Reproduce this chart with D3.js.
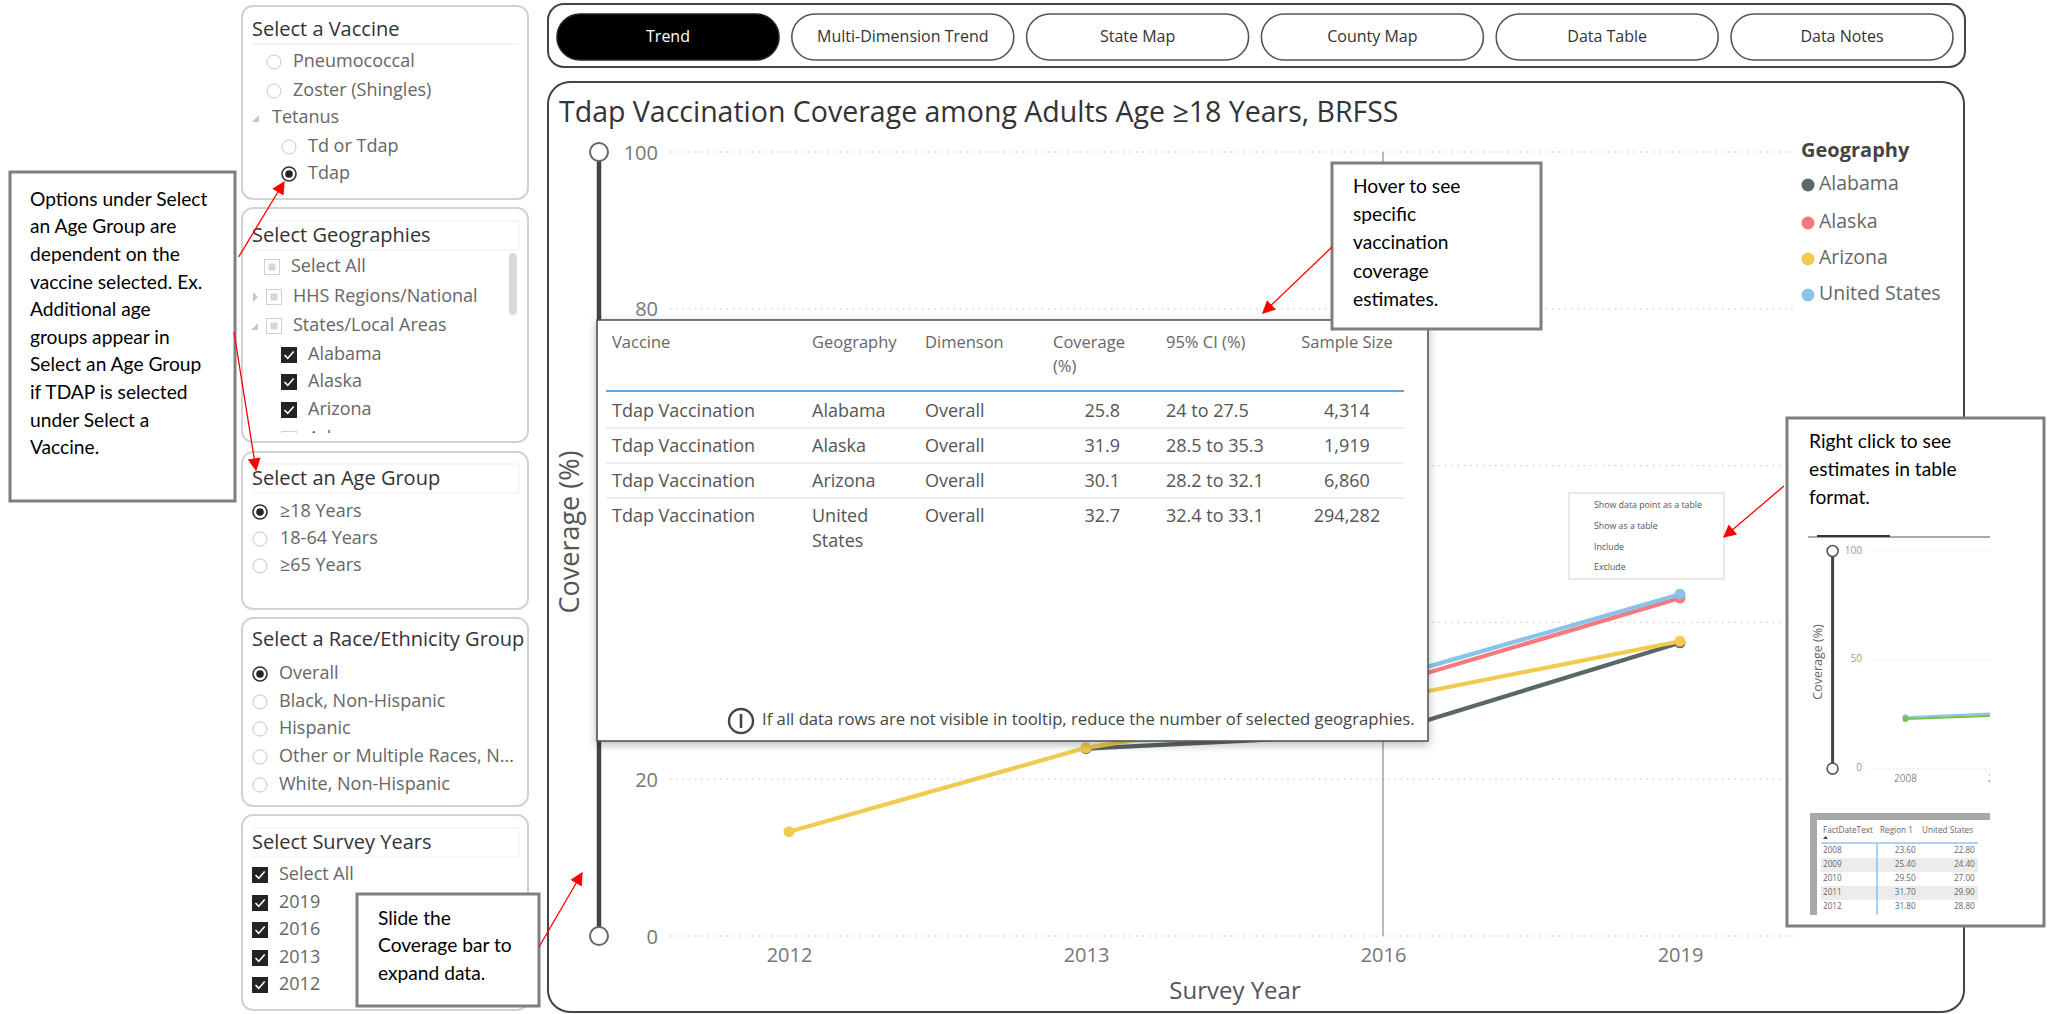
<!DOCTYPE html>
<html>
<head>
<meta charset="utf-8">
<script src="https://cdn.jsdelivr.net/npm/d3@7"></script>
<style>
  body { margin: 0; background: #fff; }
  svg { display: block; font-family: "Open Sans", sans-serif; }
</style>
</head>
<body>
<svg id="chart"></svg>
<script>
// ---- data ----
var years = ["2012", "2013", "2016", "2019"];
var geographies = ["Alabama", "Alaska", "Arizona", "United States"];
var alabamaValues = [null, 23.9, 25.8, 37.4];
var alaskaValues = [28.4, 29.6, 31.9, 43.1];
var arizonaValues = [13.3, 24.0, 30.1, 37.6];
var usValues = [26.8, 28.9, 32.7, 43.6];
var yTicks = [0, 20, 40, 60, 80, 100];
var hoverYear = "2016";

var tipHeaders = ["Vaccine", "Geography", "Dimenson", "Coverage|(%)", "95% CI (%)", "Sample Size"];
var tipVaccine = "Tdap Vaccination";
var tipDimension = "Overall";
var tipCI = ["24 to 27.5", "28.5 to 35.3", "28.2 to 32.1", "32.4 to 33.1"];
var tipSampleSize = [4314, 1919, 6860, 294282];

var navButtons = ["Trend", "Multi-Dimension Trend", "State Map", "County Map", "Data Table", "Data Notes"];
var vaccineOptions = ["Pneumococcal", "Zoster (Shingles)", "Tetanus", "Td or Tdap", "Tdap"];
var geographyOptions = ["Select All", "HHS Regions/National", "States/Local Areas", "Alabama", "Alaska", "Arizona", "Arkansas"];
var ageOptions = ["\u226518 Years", "18-64 Years", "\u226565 Years"];
var raceOptions = ["Overall", "Black, Non-Hispanic", "Hispanic", "Other or Multiple Races, N...", "White, Non-Hispanic"];
var yearOptions = ["Select All", "2019", "2016", "2013", "2012"];
var menuItems = ["Show data point as a table", "Show as a table", "Include", "Exclude"];

// small inset chart / table in the "right click" note
var miniYears = ["2008", "2009", "2010", "2011", "2012"];
var miniRegion1 = [23.6, 25.4, 29.5, 31.7, 31.8];
var miniUS = [22.8, 24.4, 27.0, 29.9, 28.8];
var miniTicks = [0, 50, 100];

var colors = ["#5b6668", "#f47a7d", "#f1cb4f", "#88c3ea"];
var series = [alabamaValues, alaskaValues, arizonaValues, usValues];

var W = 2049, H = 1014;
var svg = d3.select("#chart").attr("width", W).attr("height", H);
var defs = svg.append("defs");

var shadow = defs.append("filter").attr("id", "shadow")
  .attr("x", "-10%").attr("y", "-10%").attr("width", "120%").attr("height", "130%");
shadow.append("feDropShadow").attr("dx", 0).attr("dy", 3).attr("stdDeviation", 5)
  .attr("flood-color", "#000").attr("flood-opacity", 0.28);

defs.append("marker").attr("id", "arrow")
  .attr("viewBox", "0 0 10 10").attr("refX", 9).attr("refY", 5)
  .attr("markerUnits", "userSpaceOnUse").attr("markerWidth", 17).attr("markerHeight", 13)
  .attr("orient", "auto")
  .append("path").attr("d", "M0,0L10,5L0,10z").attr("fill", "#ff0000");

//////////// SLICERS ////////////
function drawRadio(g, cx, cy, on) {
  g.append("circle").attr("cx", cx).attr("cy", cy).attr("r", 7)
    .attr("fill", "#fff").attr("stroke", on ? "#333" : "#c8c8c8").attr("stroke-width", on ? 1.6 : 1);
  if (on) g.append("circle").attr("cx", cx).attr("cy", cy).attr("r", 3.8).attr("fill", "#252423");
}
function drawCheck(g, cx, cy, state) {
  if (state === "on") {
    g.append("rect").attr("x", cx - 8).attr("y", cy - 8).attr("width", 16).attr("height", 16).attr("fill", "#252423");
    g.append("path").attr("d", "M" + (cx - 4.5) + "," + cy + "l3.2,3.4l6-7")
      .attr("fill", "none").attr("stroke", "#fff").attr("stroke-width", 1.6);
  } else {
    g.append("rect").attr("x", cx - 7.5).attr("y", cy - 7.5).attr("width", 15).attr("height", 15)
      .attr("fill", "#fff").attr("stroke", "#cfcfcf");
    if (state === "part")
      g.append("rect").attr("x", cx - 3.5).attr("y", cy - 3.5).attr("width", 7).attr("height", 7).attr("fill", "#d6d6d6");
  }
}
function drawExpander(g, x, y, open) {
  var d = open ? "M" + (x + 3) + "," + (y - 3) + "l0,7l-7,0z" : "M" + (x - 2) + "," + (y - 5) + "l5,5l-5,5z";
  g.append("path").attr("d", d).attr("fill", "#c8c8c8");
}

var slicers = [
  { title: "Select a Vaccine", labels: vaccineOptions, top: 6, bottom: 199, titleY: 31, rule: "line",
    rows: [62, 91, 118, 147, 174], kinds: ["radio", "radio", "open", "radio", "radio*"],
    cx: [274, 274, 256, 289, 289], tx: [293, 293, 272, 308, 308] },
  { title: "Select Geographies", labels: geographyOptions, top: 208, bottom: 442, titleY: 237, rule: "box", clip: 433,
    rows: [267, 297, 326, 355, 382, 410, 439], kinds: ["part", "closed+part", "open+part", "on", "on", "on", "off"],
    cx: [272, 274, 274, 289, 289, 289, 289], tx: [291, 293, 293, 308, 308, 308, 308] },
  { title: "Select an Age Group", labels: ageOptions, top: 452, bottom: 609, titleY: 480, rule: "box",
    rows: [512, 539, 566], kinds: ["radio*", "radio", "radio"], cx: [260, 260, 260], tx: [280, 280, 280] },
  { title: "Select a Race/Ethnicity Group", labels: raceOptions, top: 618, bottom: 806, titleY: 641, rule: "none",
    rows: [674, 702, 729, 757, 785], kinds: ["radio*", "radio", "radio", "radio", "radio"],
    cx: [260, 260, 260, 260, 260], tx: [279, 279, 279, 279, 279] },
  { title: "Select Survey Years", labels: yearOptions, top: 815, bottom: 1010, titleY: 844, rule: "box",
    rows: [875, 903, 930, 958, 985], kinds: ["on", "on", "on", "on", "on"],
    cx: [260, 260, 260, 260, 260], tx: [279, 279, 279, 279, 279] }
];

slicers.forEach(function (s, si) {
  var g = svg.append("g");
  g.append("rect").attr("x", 242).attr("y", s.top).attr("width", 286).attr("height", s.bottom - s.top)
    .attr("rx", 11).attr("fill", "#fff").attr("stroke", "#d2d2d2").attr("stroke-width", 2);
  if (s.rule === "line")
    g.append("line").attr("x1", 252).attr("x2", 519).attr("y1", s.titleY + 13).attr("y2", s.titleY + 13).attr("stroke", "#ececec");
  if (s.rule === "box")
    g.append("rect").attr("x", 253).attr("y", s.titleY - 16).attr("width", 266).attr("height", 29)
      .attr("fill", "none").attr("stroke", "#f0f0f0");
  g.append("text").attr("x", 252).attr("y", s.titleY).attr("dominant-baseline", "middle")
    .attr("font-size", 20).attr("fill", "#333").text(s.title);

  var items = g.append("g");
  if (s.clip) {
    defs.append("clipPath").attr("id", "clip" + si).append("rect")
      .attr("x", 242).attr("y", s.top).attr("width", 286).attr("height", s.clip - s.top);
    items.attr("clip-path", "url(#clip" + si + ")");
  }
  s.labels.forEach(function (label, i) {
    var k = s.kinds[i], y = s.rows[i];
    if (k.indexOf("radio") === 0) drawRadio(items, s.cx[i], y, k === "radio*");
    else if (k === "open") drawExpander(items, s.cx[i], y, true);
    else {
      var parts = k.split("+");
      if (parts.length > 1) drawExpander(items, s.cx[i] - 19, y, parts[0] === "open");
      drawCheck(items, s.cx[i], y, parts[parts.length - 1]);
    }
    items.append("text").attr("x", s.tx[i]).attr("y", y).attr("dominant-baseline", "middle")
      .attr("font-size", 18).attr("fill", "#666").text(label);
  });
});
// scrollbar of the geography list
svg.append("rect").attr("x", 509).attr("y", 253).attr("width", 8).attr("height", 62).attr("rx", 4).attr("fill", "#d9d9d9");

//////////// NAVIGATION ////////////
svg.append("rect").attr("x", 548).attr("y", 4).attr("width", 1417).attr("height", 63).attr("rx", 16)
  .attr("fill", "#fff").attr("stroke", "#444").attr("stroke-width", 2);
var nav = svg.selectAll(".nav").data(navButtons).enter().append("g")
  .attr("transform", function (d, i) { return "translate(" + (557 + i * 234.8) + ",14)"; });
nav.append("rect").attr("width", 222).attr("height", 46).attr("rx", 23)
  .attr("fill", function (d, i) { return i === 0 ? "#000" : "#fff"; })
  .attr("stroke", function (d, i) { return i === 0 ? "#222" : "#555"; }).attr("stroke-width", 1.6);
nav.append("text").attr("x", 111).attr("y", 24).attr("text-anchor", "middle").attr("dominant-baseline", "middle")
  .attr("font-size", 16).attr("fill", function (d, i) { return i === 0 ? "#fff" : "#333"; })
  .text(function (d) { return d; });

//////////// MAIN VISUAL ////////////
svg.append("rect").attr("x", 548).attr("y", 82).attr("width", 1416).attr("height", 930).attr("rx", 22)
  .attr("fill", "#fff").attr("stroke", "#444").attr("stroke-width", 2);
svg.append("text").attr("x", 559).attr("y", 114).attr("dominant-baseline", "middle")
  .attr("font-size", 28.5).attr("fill", "#333")
  .text("Tdap Vaccination Coverage among Adults Age \u226518 Years, BRFSS");

var x = d3.scalePoint().domain(years).range([789, 1680]);
var y = d3.scaleLinear().domain([0, 100]).range([936, 152]);

// tooltip rectangle (drawn later) hides part of the plot
var tipBox = { x: 597, y: 320, w: 831, h: 421 };

// grid
svg.append("g").selectAll("line").data(yTicks).enter().append("line")
  .attr("x1", 670).attr("x2", 1797).attr("y1", function (d) { return y(d); }).attr("y2", function (d) { return y(d); })
  .attr("stroke", "#c8c8c8").attr("stroke-width", 1.3).attr("stroke-dasharray", "1.3,5");

// labels of 40 and 60 sit under the tooltip, so only the visible ones are written
var yAxis = svg.append("g").attr("transform", "translate(658,0)")
  .call(d3.axisLeft(y).tickValues(yTicks.filter(function (d) { return y(d) < tipBox.y || y(d) > tipBox.y + tipBox.h; }))
    .tickSize(0).tickPadding(0));
yAxis.select(".domain").remove();
yAxis.selectAll("text").attr("font-size", 20).attr("fill", "#777").attr("font-family", "Open Sans").attr("dy", "0.35em");

var xAxis = svg.append("g").attr("transform", "translate(0,944)")
  .call(d3.axisBottom(x).tickSize(0).tickPadding(0));
xAxis.select(".domain").remove();
xAxis.selectAll("text").attr("font-size", 20).attr("fill", "#777").attr("font-family", "Open Sans").attr("dy", "0.9em");

svg.append("text").attr("x", 1235).attr("y", 993).attr("text-anchor", "middle").attr("dominant-baseline", "middle")
  .attr("font-size", 24).attr("fill", "#555").text("Survey Year");
svg.append("text").attr("transform", "translate(572,532) rotate(-90)").attr("text-anchor", "middle")
  .attr("dominant-baseline", "middle").attr("font-size", 27).attr("fill", "#555").text("Coverage (%)");

// range slider on the value axis
svg.append("line").attr("x1", 599).attr("x2", 599).attr("y1", y(100)).attr("y2", y(0))
  .attr("stroke", "#444").attr("stroke-width", 4.5);
svg.selectAll(".knob").data([100, 0]).enter().append("circle")
  .attr("cx", 599).attr("cy", function (d) { return y(d); }).attr("r", 9)
  .attr("fill", "#fff").attr("stroke", "#666").attr("stroke-width", 2);

// hover line
svg.append("line").attr("x1", x(hoverYear)).attr("x2", x(hoverYear)).attr("y1", y(100)).attr("y2", y(0))
  .attr("stroke", "#8a8a8a").attr("stroke-width", 1.2);

////////// LINES //////////
var line = d3.line().defined(function (d) { return d !== null; })
  .x(function (d, i) { return x(years[i]); }).y(function (d) { return y(d); });
series.forEach(function (vals, s) {
  svg.append("path").datum(vals).attr("d", line).attr("fill", "none")
    .attr("stroke", colors[s]).attr("stroke-width", 4.2).attr("stroke-linejoin", "round");
  svg.append("g").selectAll("circle").data(vals.map(function (v, i) { return [years[i], v]; })
      .filter(function (d) { return d[1] !== null; }))
    .enter().append("circle")
    .attr("cx", function (d) { return x(d[0]); }).attr("cy", function (d) { return y(d[1]); })
    .attr("r", 5.5).attr("fill", colors[s]);
});

////////// LEGEND //////////
svg.append("text").attr("x", 1801).attr("y", 152).attr("dominant-baseline", "middle")
  .attr("font-size", 20).attr("font-weight", "bold").attr("fill", "#444").text("Geography");
var legendY = [185, 223, 259, 295];
var legend = svg.selectAll(".leg").data(geographies).enter().append("g")
  .attr("transform", function (d, i) { return "translate(1808," + legendY[i] + ")"; });
legend.append("circle").attr("r", 6.5).attr("fill", function (d, i) { return colors[i]; });
legend.append("text").attr("x", 11).attr("dominant-baseline", "middle").attr("font-size", 19.5)
  .attr("fill", "#666").text(function (d) { return d; });

////////// TOOLTIP //////////
var tip = svg.append("g");
tip.append("rect").attr("x", tipBox.x).attr("y", tipBox.y).attr("width", tipBox.w).attr("height", tipBox.h)
  .attr("fill", "#fff").attr("stroke", "#555").attr("stroke-width", 1.6).attr("filter", "url(#shadow)");
var colX = [612, 812, 925, 1053, 1166, 1347];
tipHeaders.forEach(function (h, i) {
  h.split("|").forEach(function (part, j) {
    tip.append("text").attr("x", colX[i]).attr("y", 344 + j * 24)
      .attr("text-anchor", i === 5 ? "middle" : "start").attr("dominant-baseline", "middle")
      .attr("font-size", 16.5).attr("fill", "#666").text(part);
  });
});
tip.append("line").attr("x1", 606).attr("x2", 1404).attr("y1", 391).attr("y2", 391)
  .attr("stroke", "#5aa9e6").attr("stroke-width", 2);
var hoverIdx = years.indexOf(hoverYear);
var rowY = [412, 447, 482, 517];
geographies.forEach(function (geo, r) {
  var ry = rowY[r];
  if (r < 3) tip.append("line").attr("x1", 606).attr("x2", 1404).attr("y1", ry + 16).attr("y2", ry + 16)
    .attr("stroke", "#e8e8e8").attr("stroke-width", 1.5);
  var cells = [tipVaccine, geo, tipDimension, d3.format(".1f")(series[r][hoverIdx]), tipCI[r], d3.format(",")(tipSampleSize[r])];
  cells.forEach(function (c, i) {
    var lines = (i === 1 && c.length > 10) ? c.split(" ") : [c];
    lines.forEach(function (t, j) {
      tip.append("text")
        .attr("x", i === 3 ? 1120 : colX[i]).attr("y", ry + j * 25)
        .attr("text-anchor", i === 3 ? "end" : i === 5 ? "middle" : "start")
        .attr("dominant-baseline", "middle").attr("font-size", 18).attr("fill", "#555").text(t);
    });
  });
});
tip.append("circle").attr("cx", 741).attr("cy", 721).attr("r", 12).attr("fill", "none").attr("stroke", "#444").attr("stroke-width", 2.4);
tip.append("line").attr("x1", 741).attr("x2", 741).attr("y1", 714).attr("y2", 728).attr("stroke", "#444").attr("stroke-width", 2.6);
tip.append("text").attr("x", 762).attr("y", 721).attr("dominant-baseline", "middle").attr("font-size", 16.7)
  .attr("fill", "#444").text("If all data rows are not visible in tooltip, reduce the number of selected geographies.");

////////// CONTEXT MENU //////////
svg.append("rect").attr("x", 1569).attr("y", 493).attr("width", 155).attr("height", 86)
  .attr("fill", "#fff").attr("stroke", "#dcdcdc").attr("stroke-width", 1.2);
svg.selectAll(".menu").data(menuItems).enter().append("text")
  .attr("x", 1594).attr("y", function (d, i) { return 506 + i * 20.7; }).attr("dominant-baseline", "middle")
  .attr("font-size", 8.8).attr("fill", "#555").text(function (d) { return d; });

////////// NOTES //////////
function noteBox(x0, y0, x1, y1, lines, tx, ty, lh) {
  svg.append("rect").attr("x", x0).attr("y", y0).attr("width", x1 - x0).attr("height", y1 - y0)
    .attr("fill", "#fff").attr("stroke", "#7f7f7f").attr("stroke-width", 3);
  lines.forEach(function (t, i) {
    svg.append("text").attr("x", tx).attr("y", ty + i * lh).attr("dominant-baseline", "middle")
      .attr("font-family", "Lato, sans-serif").attr("font-size", 19.2).attr("fill", "#000").text(t);
  });
}
noteBox(10, 172, 235, 501, ["Options under Select", "an Age Group are", "dependent on the", "vaccine selected. Ex.",
  "Additional age", "groups appear in", "Select an Age Group", "if TDAP is selected", "under Select a", "Vaccine."], 30, 201, 27.6);
noteBox(1332, 163, 1541, 329, ["Hover to see", "specific", "vaccination", "coverage", "estimates."], 1353, 188, 28.3);
noteBox(357, 894, 539, 1006, ["Slide the", "Coverage bar to", "expand data."], 378, 920, 27.5);
noteBox(1787, 418, 2044, 926, ["Right click to see", "estimates in table", "format."], 1809, 443, 28);

// inset picture inside the "right click" note
var mx = d3.scalePoint().domain(miniYears).range([1905.5, 1905.5 + 94 * 4]);
var my = d3.scaleLinear().domain([0, 100]).range([768.6, 551]);
defs.append("clipPath").attr("id", "miniClip").append("rect").attr("x", 1800).attr("y", 520).attr("width", 190).attr("height", 400);
var mini = svg.append("g").attr("clip-path", "url(#miniClip)");
mini.append("line").attr("x1", 1808).attr("x2", 1990).attr("y1", 537).attr("y2", 537).attr("stroke", "#555");
mini.append("line").attr("x1", 1817).attr("x2", 1890).attr("y1", 536).attr("y2", 536).attr("stroke", "#333").attr("stroke-width", 2);
mini.selectAll(".mg").data(miniTicks).enter().append("line")
  .attr("x1", 1869).attr("x2", 1990).attr("y1", function (d) { return my(d); }).attr("y2", function (d) { return my(d); })
  .attr("stroke", "#d8d8d8").attr("stroke-dasharray", "1,3");
mini.selectAll(".mt").data(miniTicks).enter().append("text")
  .attr("x", 1862).attr("y", function (d) { return my(d); }).attr("text-anchor", "end").attr("dominant-baseline", "middle")
  .attr("font-size", 10).attr("fill", "#999").text(function (d) { return d; });
mini.append("line").attr("x1", 1832.6).attr("x2", 1832.6).attr("y1", my(100)).attr("y2", my(0)).attr("stroke", "#444").attr("stroke-width", 3);
mini.selectAll(".mk").data([100, 0]).enter().append("circle")
  .attr("cx", 1832.6).attr("cy", function (d) { return my(d); }).attr("r", 5.5)
  .attr("fill", "#fff").attr("stroke", "#555").attr("stroke-width", 1.6);
mini.append("text").attr("transform", "translate(1819,662) rotate(-90)").attr("text-anchor", "middle")
  .attr("dominant-baseline", "middle").attr("font-size", 12.5).attr("fill", "#666").text("Coverage (%)");
// only the first two year labels fall inside the cropped inset
mini.selectAll(".mx").data(miniYears.slice(0, 2)).enter().append("text")
  .attr("x", function (d) { return mx(d); }).attr("y", 779).attr("text-anchor", "middle").attr("dominant-baseline", "middle")
  .attr("font-size", 10).attr("fill", "#888").text(function (d) { return d; });
var mline = d3.line().x(function (d, i) { return mx(miniYears[i]); }).y(function (d) { return my(d); });
[[miniRegion1, "#8cc4ec"], [miniUS, "#7cbf4a"]].forEach(function (p) {
  mini.append("path").datum(p[0]).attr("d", mline).attr("fill", "none").attr("stroke", p[1]).attr("stroke-width", 2.2);
  mini.append("circle").attr("cx", mx(miniYears[0])).attr("cy", my(p[0][0])).attr("r", 3).attr("fill", p[1]);
});
// inset table
mini.append("rect").attr("x", 1810).attr("y", 813).attr("width", 180).attr("height", 102).attr("fill", "#a8a8a8");
mini.append("rect").attr("x", 1817).attr("y", 820).attr("width", 173).attr("height", 95).attr("fill", "#fff");
var tcols = [["FactDateText", 1823], ["Region 1", 1880], ["United States", 1922]];
tcols.forEach(function (c) {
  mini.append("text").attr("x", c[1]).attr("y", 831).attr("dominant-baseline", "middle")
    .attr("font-size", 8.2).attr("fill", "#666").text(c[0]);
});
mini.append("path").attr("d", "M1823,839l2.5,-3l2.5,3z").attr("fill", "#444");
miniYears.forEach(function (yr, i) {
  var ry = 851 + i * 14;
  if (i % 2 === 1) mini.append("rect").attr("x", 1821).attr("y", ry - 7).attr("width", 157).attr("height", 14).attr("fill", "#ececec");
  mini.append("text").attr("x", 1823).attr("y", ry).attr("dominant-baseline", "middle").attr("font-size", 8.2).attr("fill", "#666").text(yr);
  mini.append("text").attr("x", 1915.6).attr("y", ry).attr("text-anchor", "end").attr("dominant-baseline", "middle")
    .attr("font-size", 8.2).attr("fill", "#666").text(d3.format(".2f")(miniRegion1[i]));
  mini.append("text").attr("x", 1974.8).attr("y", ry).attr("text-anchor", "end").attr("dominant-baseline", "middle")
    .attr("font-size", 8.2).attr("fill", "#666").text(d3.format(".2f")(miniUS[i]));
});
mini.append("line").attr("x1", 1821).attr("x2", 1978).attr("y1", 843).attr("y2", 843).attr("stroke", "#5aa9e6");
mini.append("line").attr("x1", 1877).attr("x2", 1877).attr("y1", 843).attr("y2", 915).attr("stroke", "#5aa9e6");

////////// ARROWS //////////
var arrows = [[238.6, 257, 284, 182], [234, 332, 256, 470], [539, 947, 582, 873], [1332, 247, 1263, 313], [1784, 486, 1724, 537]];
svg.selectAll(".arrow").data(arrows).enter().append("line")
  .attr("x1", function (d) { return d[0]; }).attr("y1", function (d) { return d[1]; })
  .attr("x2", function (d) { return d[2]; }).attr("y2", function (d) { return d[3]; })
  .attr("stroke", "#ff0000").attr("stroke-width", 1.3).attr("marker-end", "url(#arrow)");
</script>
</body>
</html>
